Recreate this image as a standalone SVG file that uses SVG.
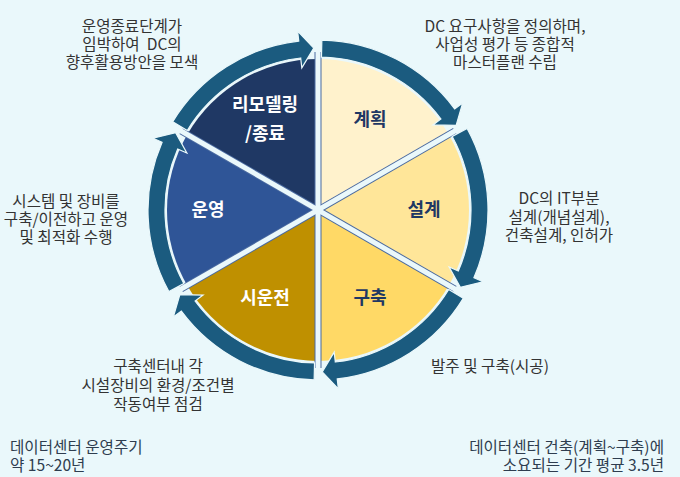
<svg xmlns="http://www.w3.org/2000/svg" width="680" height="477" viewBox="0 0 680 477">
<style>
.desc{font-family:"Noto Sans CJK KR","Noto Sans",sans-serif;font-size:15.6px;fill:#333;text-anchor:middle}
.note{font-family:"Noto Sans CJK KR","Noto Sans",sans-serif;font-size:15.6px;fill:#2e3d4f}
.lbl{font-family:"Noto Sans CJK KR","Noto Sans",sans-serif;font-size:18px;font-weight:bold;text-anchor:middle}
.dk{fill:#1f3864}
.wt{fill:#ffffff}
.ring{fill:#1b5b7f;stroke:#eaf8fb;stroke-width:1.2;stroke-linejoin:miter}
.sepb{stroke:#4a6aa0;stroke-width:7}
.sepw{stroke:#eaf8fb;stroke-width:5}
</style>
<defs>
<path id="arr" d="M321.86,40.04 A170,170 0 0 1 454.66,108.88 L462.69,102.93 L456.13,125.35 L432.95,124.94 L440.99,118.99 A153,153 0 0 0 321.47,57.04 Z"/>
</defs>
<rect width="680" height="477" fill="#eaf8fb"/>
<g id="pie">
<g id="node-plan"><path d="M318,210 L318,59 A151,151 0 0 1 448.77,134.5 Z" fill="#fff2cc"/><text class="lbl dk" x="370" y="126">계획</text></g>
<g id="node-design"><path d="M318,210 L448.77,134.5 A151,151 0 0 1 448.77,285.5 Z" fill="#ffe699"/><text class="lbl dk" x="424" y="216">설계</text></g>
<g id="node-build"><path d="M318,210 L448.77,285.5 A151,151 0 0 1 318,361 Z" fill="#ffd966"/><text class="lbl dk" x="370" y="304">구축</text></g>
<g id="node-test"><path d="M318,210 L318,361 A151,151 0 0 1 187.23,285.5 Z" fill="#bf9000"/><text class="lbl wt" x="265" y="304">시운전</text></g>
<g id="node-operate"><path d="M318,210 L187.23,285.5 A151,151 0 0 1 187.23,134.5 Z" fill="#2f5597"/><text class="lbl wt" x="208" y="216">운영</text></g>
<g id="node-remodel"><path d="M318,210 L187.23,134.5 A151,151 0 0 1 318,59 Z" fill="#1f3864"/><text class="lbl wt" x="265"><tspan x="265" y="111">리모델링</tspan><tspan x="265" y="140">/종료</tspan></text></g>
</g>
<g id="separators">
<line class="sepb" x1="318" y1="52" x2="318" y2="368"/>
<line class="sepb" x1="454.83" y1="131" x2="181.17" y2="289"/>
<line class="sepb" x1="454.83" y1="289" x2="181.17" y2="131"/>
<line class="sepw" x1="318" y1="50" x2="318" y2="370"/>
<line class="sepw" x1="456.6" y1="130" x2="179.4" y2="290"/>
<line class="sepw" x1="456.6" y1="290" x2="179.4" y2="130"/>
</g>
<g id="connectors">
<use href="#arr" class="ring"/>
<use href="#arr" class="ring" transform="rotate(60 318 210)"/>
<use href="#arr" class="ring" transform="rotate(120 318 210)"/>
<use href="#arr" class="ring" transform="rotate(180 318 210)"/>
<use href="#arr" class="ring" transform="rotate(240 318 210)"/>
<use href="#arr" class="ring" transform="rotate(300 318 210)"/>
</g>
<g id="descriptions">
<text class="desc"><tspan x="132" y="32">운영종료단계가</tspan><tspan x="132" y="50">임박하여&#160; DC의</tspan><tspan x="132" y="68">향후활용방안을 모색</tspan></text>
<text class="desc"><tspan x="505" y="32">DC 요구사항을 정의하며,</tspan><tspan x="505" y="50">사업성 평가 등 종합적</tspan><tspan x="505" y="68">마스터플랜 수립</tspan></text>
<text class="desc"><tspan x="559" y="204">DC의 IT부분</tspan><tspan x="559" y="222.5">설계(개념설계),</tspan><tspan x="559" y="241">건축설계, 인허가</tspan></text>
<text class="desc"><tspan x="66" y="207">시스템 및 장비를</tspan><tspan x="66" y="225">구축/이전하고 운영</tspan><tspan x="66" y="243">및 최적화 수행</tspan></text>
<text class="desc"><tspan x="158" y="372">구축센터내 각</tspan><tspan x="158" y="391">시설장비의 환경/조건별</tspan><tspan x="158" y="410">작동여부 점검</tspan></text>
<text class="desc" x="490" y="372">발주 및 구축(시공)</text>
<text class="note"><tspan x="10" y="453">데이터센터 운영주기</tspan><tspan x="10" y="471">약 15~20년</tspan></text>
<text class="note" text-anchor="end"><tspan x="664" y="453">데이터센터 건축(계획~구축)에</tspan><tspan x="664" y="471">소요되는 기간 평균 3.5년</tspan></text>
</g>
</svg>
